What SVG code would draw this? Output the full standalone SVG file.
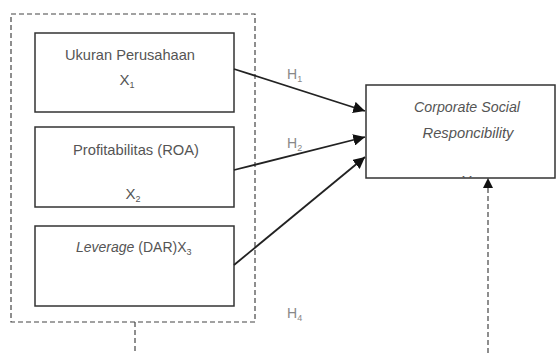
<svg xmlns="http://www.w3.org/2000/svg" width="557" height="353" viewBox="0 0 557 353">
  <style>
    .box { fill: #fff; stroke: #333; stroke-width: 1.5; }
    .dash { fill: none; stroke: #444; stroke-width: 1.2; stroke-dasharray: 5 3; }
    .txt { font-family: "Liberation Sans", Arial, sans-serif; font-size: 15px; fill: #555; }
    .it { font-style: italic; }
    .lbl { font-family: "Liberation Sans", Arial, sans-serif; font-size: 14px; fill: #888; }
    .sub { font-size: 9px; }
    .edge { stroke: #222; stroke-width: 1.8; fill: none; }
  </style>
  <defs>
    <marker id="arr" viewBox="0 0 10 10" refX="10" refY="5" markerWidth="6.5" markerHeight="6.5" orient="auto" markerUnits="strokeWidth">
      <path d="M0,0 L10,5 L0,10 z" fill="#111"/>
    </marker>
    <clipPath id="clipY"><rect x="360" y="160" width="200" height="18"/></clipPath>
  </defs>
  <rect width="557" height="353" fill="#fff"/>

  <g id="group-independent">
    <rect class="dash" x="11" y="14" width="244" height="308"/>
  </g>

  <g id="node-x1">
    <rect class="box" x="35" y="33" width="199" height="79"/>
    <text class="txt" x="130" y="60" text-anchor="middle" textLength="130" lengthAdjust="spacingAndGlyphs">Ukuran Perusahaan</text>
    <text class="txt" x="127" y="85" text-anchor="middle">X<tspan class="sub" dy="3">1</tspan></text>
  </g>

  <g id="node-x2">
    <rect class="box" x="35" y="127" width="199" height="80"/>
    <text class="txt" x="136" y="155" text-anchor="middle" textLength="126" lengthAdjust="spacingAndGlyphs">Profitabilitas (ROA)</text>
    <text class="txt" x="133" y="199" text-anchor="middle">X<tspan class="sub" dy="3">2</tspan></text>
  </g>

  <g id="node-x3">
    <rect class="box" x="35" y="226" width="199" height="80"/>
    <text class="txt" x="76" y="252" style="font-size:14px"><tspan class="it">Leverage</tspan> (DAR)X<tspan class="sub" dy="3">3</tspan></text>
  </g>

  <g id="node-y">
    <rect class="box" x="366" y="85" width="189" height="93"/>
    <text class="txt it" x="467" y="112" text-anchor="middle" textLength="106" lengthAdjust="spacingAndGlyphs">Corporate Social</text>
    <text class="txt it" x="468" y="138" text-anchor="middle" textLength="91" lengthAdjust="spacingAndGlyphs">Responcibility</text>
    <text class="txt" x="467" y="186" text-anchor="middle" clip-path="url(#clipY)">Y</text>
  </g>

  <g id="connectors">
    <line class="edge" x1="234" y1="69" x2="365" y2="111" marker-end="url(#arr)"/>
    <line class="edge" x1="234" y1="170" x2="365" y2="137" marker-end="url(#arr)"/>
    <line class="edge" x1="234" y1="265" x2="365" y2="157" marker-end="url(#arr)"/>
    <line class="dash" x1="135" y1="322" x2="135" y2="353"/>
    <line class="dash" x1="488" y1="353" x2="488" y2="186"/>
    <path d="M483,188 L488,178 L493,188 z" fill="#111"/>
  </g>

  <g id="labels">
    <text class="lbl" x="287" y="79">H<tspan class="sub" dy="3">1</tspan></text>
    <text class="lbl" x="287" y="148">H<tspan class="sub" dy="3">2</tspan></text>
    <text class="lbl" x="287" y="318">H<tspan class="sub" dy="3">4</tspan></text>
  </g>
</svg>
